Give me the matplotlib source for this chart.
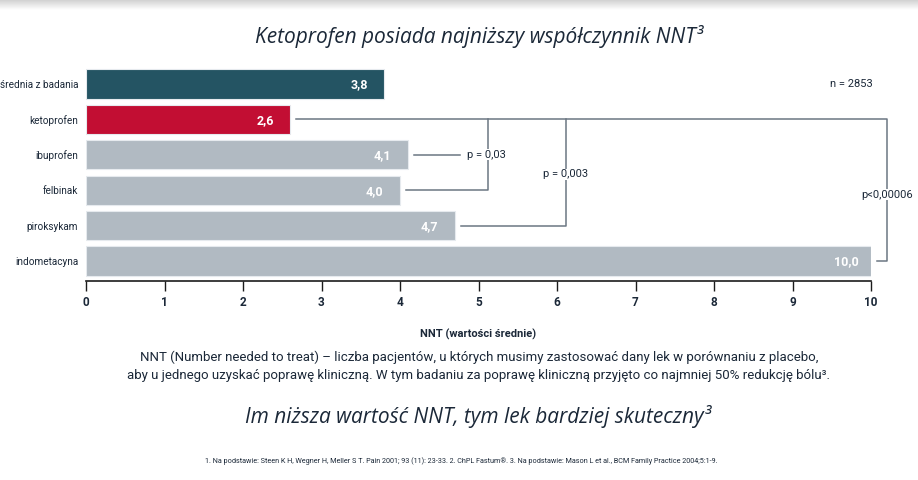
import numpy as np
import matplotlib
matplotlib.use("Agg")
import matplotlib.pyplot as plt

plt.rcParams['font.family'] = ['Roboto', 'DejaVu Sans']

# data
categories = ["średnia z badania", "ketoprofen", "ibuprofen", "felbinak", "piroksykam", "indometacyna"]
nnt = [3.8, 2.6, 4.1, 4.0, 4.7, 10.0]
value_labels = ["3,8", "2,6", "4,1", "4,0", "4,7", "10,0"]
bar_colors = ["#245463", "#c20e33", "#b1bac2", "#b1bac2", "#b1bac2", "#b1bac2"]
ticks = list(range(0, 11))

title = "Ketoprofen posiada najniższy współczynnik NNT³"
note1 = "NNT (Number needed to treat) – liczba pacjentów, u których musimy zastosować dany lek w porównaniu z placebo,"
note2 = "aby u jednego uzyskać poprawę kliniczną. W tym badaniu za poprawę kliniczną przyjęto co najmniej 50% redukcję bólu³."
claim = "Im niższa wartość NNT, tym lek bardziej skuteczny³"
footnote = ("1. Na podstawie: Steen K H, Wegner H, Meller S T. Pain 2001; 93 (11): 23-33. 2. ChPL Fastum®. "
            "3. Na podstawie: Mason L et al., BCM Family Practice 2004;5:1-9.")

text_col = "#1b2838"
line_col = "#6b7682"

fig = plt.figure(figsize=(9.18, 4.8), dpi=100)

# top shadow band
shade = fig.add_axes([0, 1 - 10 / 480, 1, 10 / 480])
shade.imshow(np.linspace(0.82, 1.0, 50).reshape(-1, 1), aspect="auto", cmap="gray", vmin=0, vmax=1)
shade.axis("off")

ax = fig.add_axes([86 / 918, 1 - 281 / 480, 785 / 918, (281 - 66.3) / 480])
y = np.arange(len(categories))
ax.barh(y, nnt, height=0.82, color=bar_colors, edgecolor="#e6eaee", linewidth=0.8, zorder=2)
ax.set_xlim(0, 10)
ax.set_ylim(5.565, -0.5)

for yi, v, lab in zip(y, nnt, value_labels):
    ax.text(v - 0.32, yi + 0.03, lab, ha="center", va="center", color="white",
            fontsize=9, fontweight="bold", zorder=3)

ax.set_yticks(y)
ax.set_yticklabels(categories, fontsize=7.2, color=text_col)
ax.tick_params(axis="y", length=0, pad=5.5)
ax.set_xticks(ticks)
ax.set_xticklabels([str(t) for t in ticks], fontsize=8.5, color=text_col, fontweight="bold")
ax.tick_params(axis="x", length=7, width=1, color="#1b1b1b", pad=4, direction="out")
for s in ["top", "right", "left"]:
    ax.spines[s].set_visible(False)
ax.spines["bottom"].set_color("#1b1b1b")
ax.spines["bottom"].set_linewidth(1.2)
ax.set_xlabel("NNT (wartości średnie)", fontsize=8, fontweight="bold", color=text_col, labelpad=14)

# significance brackets
lw = 1.1
gap = 0.08
kw = dict(color=line_col, lw=lw, clip_on=False, zorder=1)
x03, x003, x6 = 5.12, 6.11, 10.2
ax.plot([nnt[1] + gap, x6, x6, nnt[5] + gap], [1, 1, 5, 5], **kw)
ax.plot([x03, x03, nnt[3] + gap], [1, 3, 3], **kw)
ax.plot([nnt[2] + gap, 4.76], [2, 2], **kw)
ax.plot([x003, x003, nnt[4] + gap], [1, 4, 4], **kw)

bb = dict(facecolor="white", edgecolor="none", pad=0.5)
ax.text(4.85, 2, "p = 0,03", ha="left", va="center", fontsize=8, color=text_col, bbox=bb, zorder=4)
ax.text(x003, 2.55, "p = 0,003", ha="center", va="center", fontsize=8, color=text_col, bbox=bb, zorder=4)
ax.text(x6, 3.13, "p<0,00006", ha="center", va="center", fontsize=8, color=text_col, bbox=bb,
        zorder=4, clip_on=False)
ax.text(9.75, 0, "n = 2853", ha="center", va="center", fontsize=8, color=text_col)

# texts
fig.text(479 / 918, 1 - 37 / 480, title, ha="center", va="center", fontsize=15,
         style="italic", fontweight="medium", family=["Open Sans", "DejaVu Sans"], color=text_col)
fig.text(479 / 918, 1 - 357 / 480, note1, ha="center", va="center", fontsize=9.5, color=text_col)
fig.text(479 / 918, 1 - 376 / 480, note2, ha="center", va="center", fontsize=9.5, color=text_col)
fig.text(478 / 918, 1 - 417 / 480, claim, ha="center", va="center", fontsize=15,
         style="italic", fontweight="medium", family=["Open Sans", "DejaVu Sans"], color=text_col)
fig.text(461 / 918, 1 - 461 / 480, footnote, ha="center", va="center", fontsize=5.2, color=text_col)

fig.savefig("out.png", dpi=100, facecolor="white")
